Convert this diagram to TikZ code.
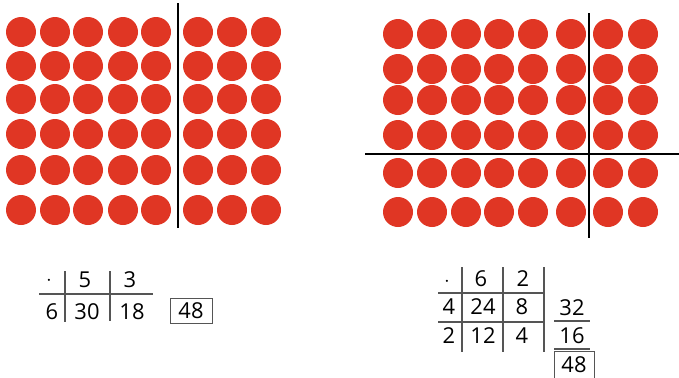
\documentclass[tikz,border=0pt]{standalone}
\usepackage{fontspec}
\setmainfont{Open Sans}
\definecolor{dotred}{RGB}{224,54,36}
\definecolor{tabgray}{RGB}{85,85,85}
\begin{document}
\begin{tikzpicture}[
  x=1bp,
  y=-1bp,
  font=\fontsize{22}{24}\selectfont,
  dot/.style={fill=dotred},
  cutline/.style={black, line width=2.4bp},
  tabline/.style={tabgray, line width=1.6bp},
  numbox/.style={draw=tabgray, line width=1bp, inner sep=2bp, minimum width=42bp, minimum height=25bp}
]
\useasboundingbox (0,0) rectangle (679,377);

% left array 6 x 8
\foreach \y in {32,66,99,134,170,210} {
  \foreach \x in {21,55,88,123,156,198,232,266} {
    \fill[dot] (\x,\y) circle[radius=15];
  }
}
\draw[cutline] (178,3) -- (178,228);

% right array 6 x 8
\foreach \y in {34,69,100,135,173,212} {
  \foreach \x in {398,432,466,499,533,571,608,643} {
    \fill[dot] (\x,\y) circle[radius=15];
  }
}
\draw[cutline] (589,13) -- (589,238);
\draw[cutline] (365,154) -- (679,154);

% left table
\node (ldot) at (49,281) {$\cdot$};
\node (lfive) at (85,280) {5};
\node (lthree) at (130,280) {3};
\node (lsix) at (52,312) {6};
\node (lthirty) at (87,312) {30};
\node (leighteen) at (132,312) {18};
\draw[tabline] (39,294) -- (153,294);
\draw[tabline] (65,271) -- (65,322);
\draw[tabline] (110,271) -- (110,321);
\node[numbox] (lsum) at (191,311) {48};

% right table
\node (rdot) at (447,282) {$\cdot$};
\node (rsix) at (481,279) {6};
\node (rtwo) at (523,279) {2};
\node (rfour) at (449,307) {4};
\node (rtwentyfour) at (483,307) {24};
\node (reight) at (522,307) {8};
\node (rtwob) at (449,336) {2};
\node (rtwelve) at (483,336) {12};
\node (rfourb) at (522,336) {4};
\draw[tabline] (438,293) -- (544,293);
\draw[tabline] (438,322) -- (544,322);
\draw[tabline] (462,267) -- (462,352);
\draw[tabline] (503,267) -- (503,352);
\draw[tabline] (544,267) -- (544,352);

% partial sums
\node (rthirtytwo) at (572,308) {32};
\node (rsixteen) at (572,336) {16};
\draw[tabline] (554,321) -- (590,321);
\draw[tabline] (554,349) -- (590,349);
\node[numbox, minimum width=40bp, minimum height=27bp, anchor=north] (rsum) at (574,351) {48};
\end{tikzpicture}
\end{document}
